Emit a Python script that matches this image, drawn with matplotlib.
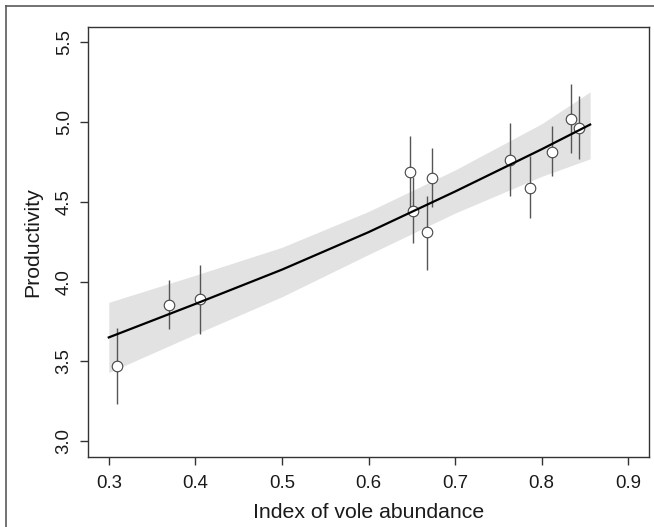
import matplotlib.pyplot as plt
from matplotlib.lines import Line2D

plt.rcParams['font.family'] = ['Liberation Sans', 'DejaVu Sans']

# observed points (index of vole abundance, productivity, error bar ends)
vole_x = [0.309, 0.369, 0.405, 0.648, 0.651, 0.668, 0.673, 0.764, 0.787, 0.812, 0.834, 0.843]
prod_y = [3.47, 3.855, 3.89, 4.69, 4.445, 4.31, 4.65, 4.765, 4.59, 4.81, 5.02, 4.963]
err_lo = [3.23, 3.70, 3.67, 4.46, 4.24, 4.07, 4.47, 4.535, 4.40, 4.66, 4.805, 4.766]
err_hi = [3.71, 4.01, 4.105, 4.915, 4.655, 4.54, 4.84, 4.995, 4.79, 4.975, 5.238, 5.164]

# fitted curve and confidence band
fit_x = [0.30, 0.40, 0.50, 0.60, 0.70, 0.80, 0.856]
fit_y = [3.65, 3.86, 4.075, 4.31, 4.565, 4.83, 4.985]
band_hi = [3.87, 4.04, 4.215, 4.44, 4.70, 4.99, 5.19]
band_lo = [3.43, 3.67, 3.905, 4.17, 4.43, 4.66, 4.77]

x_ticks = [0.3, 0.4, 0.5, 0.6, 0.7, 0.8, 0.9]
y_ticks = [3.0, 3.5, 4.0, 4.5, 5.0, 5.5]

fig = plt.figure(figsize=(6.54, 5.27), dpi=100)
ax = fig.add_axes([88/654, 1 - 457/527, (649 - 88)/654, (457 - 26.5)/527])

ax.fill_between(fit_x, band_lo, band_hi, color='#e2e2e2', linewidth=0, zorder=1)
ax.vlines(vole_x, err_lo, err_hi, color='#555555', linewidth=1.0, zorder=2)
ax.plot(vole_x, prod_y, 'o', markersize=7.6, markerfacecolor='white',
        markeredgecolor='#444444', markeredgewidth=0.8, zorder=3)
ax.plot(fit_x, fit_y, color='black', linewidth=1.6, zorder=4)

ax.set_xlim(0.276, 0.924)
ax.set_ylim(2.9, 5.6)
ax.set_xticks(x_ticks)
ax.set_xticklabels([f'{v:.1f}' for v in x_ticks])
ax.set_yticks(y_ticks)
ax.set_yticklabels([f'{v:.1f}' for v in y_ticks], rotation=90, va='center')

for s in ax.spines.values():
    s.set_color('#333333')
    s.set_linewidth(1.0)
ax.tick_params(axis='both', length=6, width=1.0, color='#333333',
               labelsize=13.4, labelcolor='#1a1a1a')
ax.tick_params(axis='x', pad=7)
ax.tick_params(axis='y', pad=5)

ax.set_xlabel('Index of vole abundance', fontsize=15.3, color='#1a1a1a', labelpad=8)
ax.set_ylabel('Productivity', fontsize=15.3, color='#1a1a1a', labelpad=10)

# outer frame (top and left edges only visible)
fig.add_artist(Line2D([6/654, 1], [1 - 6/527, 1 - 6/527], transform=fig.transFigure,
                      color='#5a5a5a', linewidth=1.2))
fig.add_artist(Line2D([6/654, 6/654], [0, 1 - 6/527], transform=fig.transFigure,
                      color='#5a5a5a', linewidth=1.2))

fig.savefig('out.png', dpi=100)
